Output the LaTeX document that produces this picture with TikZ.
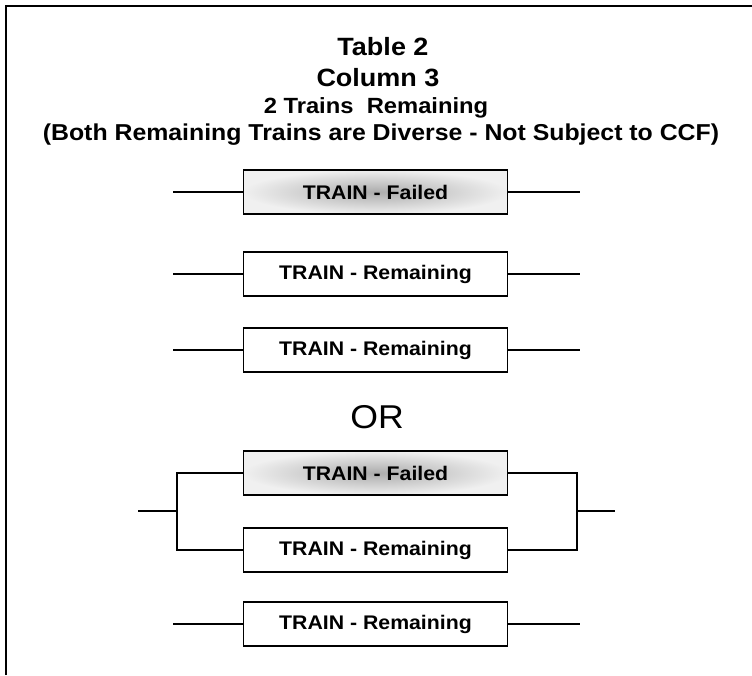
\documentclass[tikz,border=0pt]{standalone}
\usepackage{fontspec}
\setmainfont[FakeStretch=1.08]{Liberation Sans}
\usetikzlibrary{positioning}

\tikzset{
  train/.style={rectangle,draw,line width=1.6pt,minimum width=264pt,minimum height=44pt,
    inner sep=0pt,font=\bfseries\fontsize{19.7}{22}\selectfont},
  failed/.style={train,shading=radial,inner color=gray!65,outer color=gray!12},
  wire/.style={line width=1.6pt}
}

\begin{document}
\begin{tikzpicture}[x=1pt,y=-1pt]
    \useasboundingbox (0,0) rectangle (752,675);
    % Frame
    \draw[line width=1.5pt] (6,675) -- (6,6) -- (752,6);

    % Title
    \node (tab) at (383,47) {\bfseries\fontsize{25}{27}\selectfont Table 2};
    \node (col) at (378,78) {\bfseries\fontsize{25}{27}\selectfont Column 3};
    \node (rem) at (376,108) {\bfseries\fontsize{22}{24}\selectfont 2 Trains\ \ Remaining};
    \node (why) at (381,135) {\bfseries\fontsize{23}{25}\selectfont (Both Remaining Trains are Diverse - Not Subject to CCF)};

    % Three trains in series
    \foreach \i/\y in {1/192,2/274,3/350} {
        \coordinate (in\i) at (173,\y);
        \coordinate (out\i) at (580,\y);
    }
    \node[failed] (box1) at (375.5,192) {TRAIN - Failed};
    \node[train] (box2) at (375.5,274) {TRAIN - Remaining};
    \node[train] (box3) at (375.5,350) {TRAIN - Remaining};
    \foreach \i in {1,2,3} {
        \draw[wire] (in\i) -- (box\i);
        \draw[wire] (box\i) -- (out\i);
    }

    \node (or) at (377,417) {\fontsize{33}{35}\selectfont OR};

    % Two trains in parallel, one in series
    \node[failed] (box4) at (375.5,473) {TRAIN - Failed};
    \node[train] (box5) at (375.5,550) {TRAIN - Remaining};
    \coordinate (lin) at (138,511);
    \coordinate (ljoin) at (177,511);
    \coordinate (rjoin) at (577,511);
    \coordinate (rout) at (615,511);
    \draw[wire] (lin) -- (ljoin);
    \draw[wire] (box4.west) -- (box4.west -| ljoin) -- (box5.west -| ljoin) -- (box5.west);
    \draw[wire] (box4.east) -- (box4.east -| rjoin) -- (box5.east -| rjoin) -- (box5.east);
    \draw[wire] (rjoin) -- (rout);

    \node[train] (box6) at (375.5,624) {TRAIN - Remaining};
    \coordinate (in6) at (173,624);
    \coordinate (out6) at (580,624);
    \draw[wire] (in6) -- (box6);
    \draw[wire] (box6) -- (out6);
\end{tikzpicture}
\end{document}
